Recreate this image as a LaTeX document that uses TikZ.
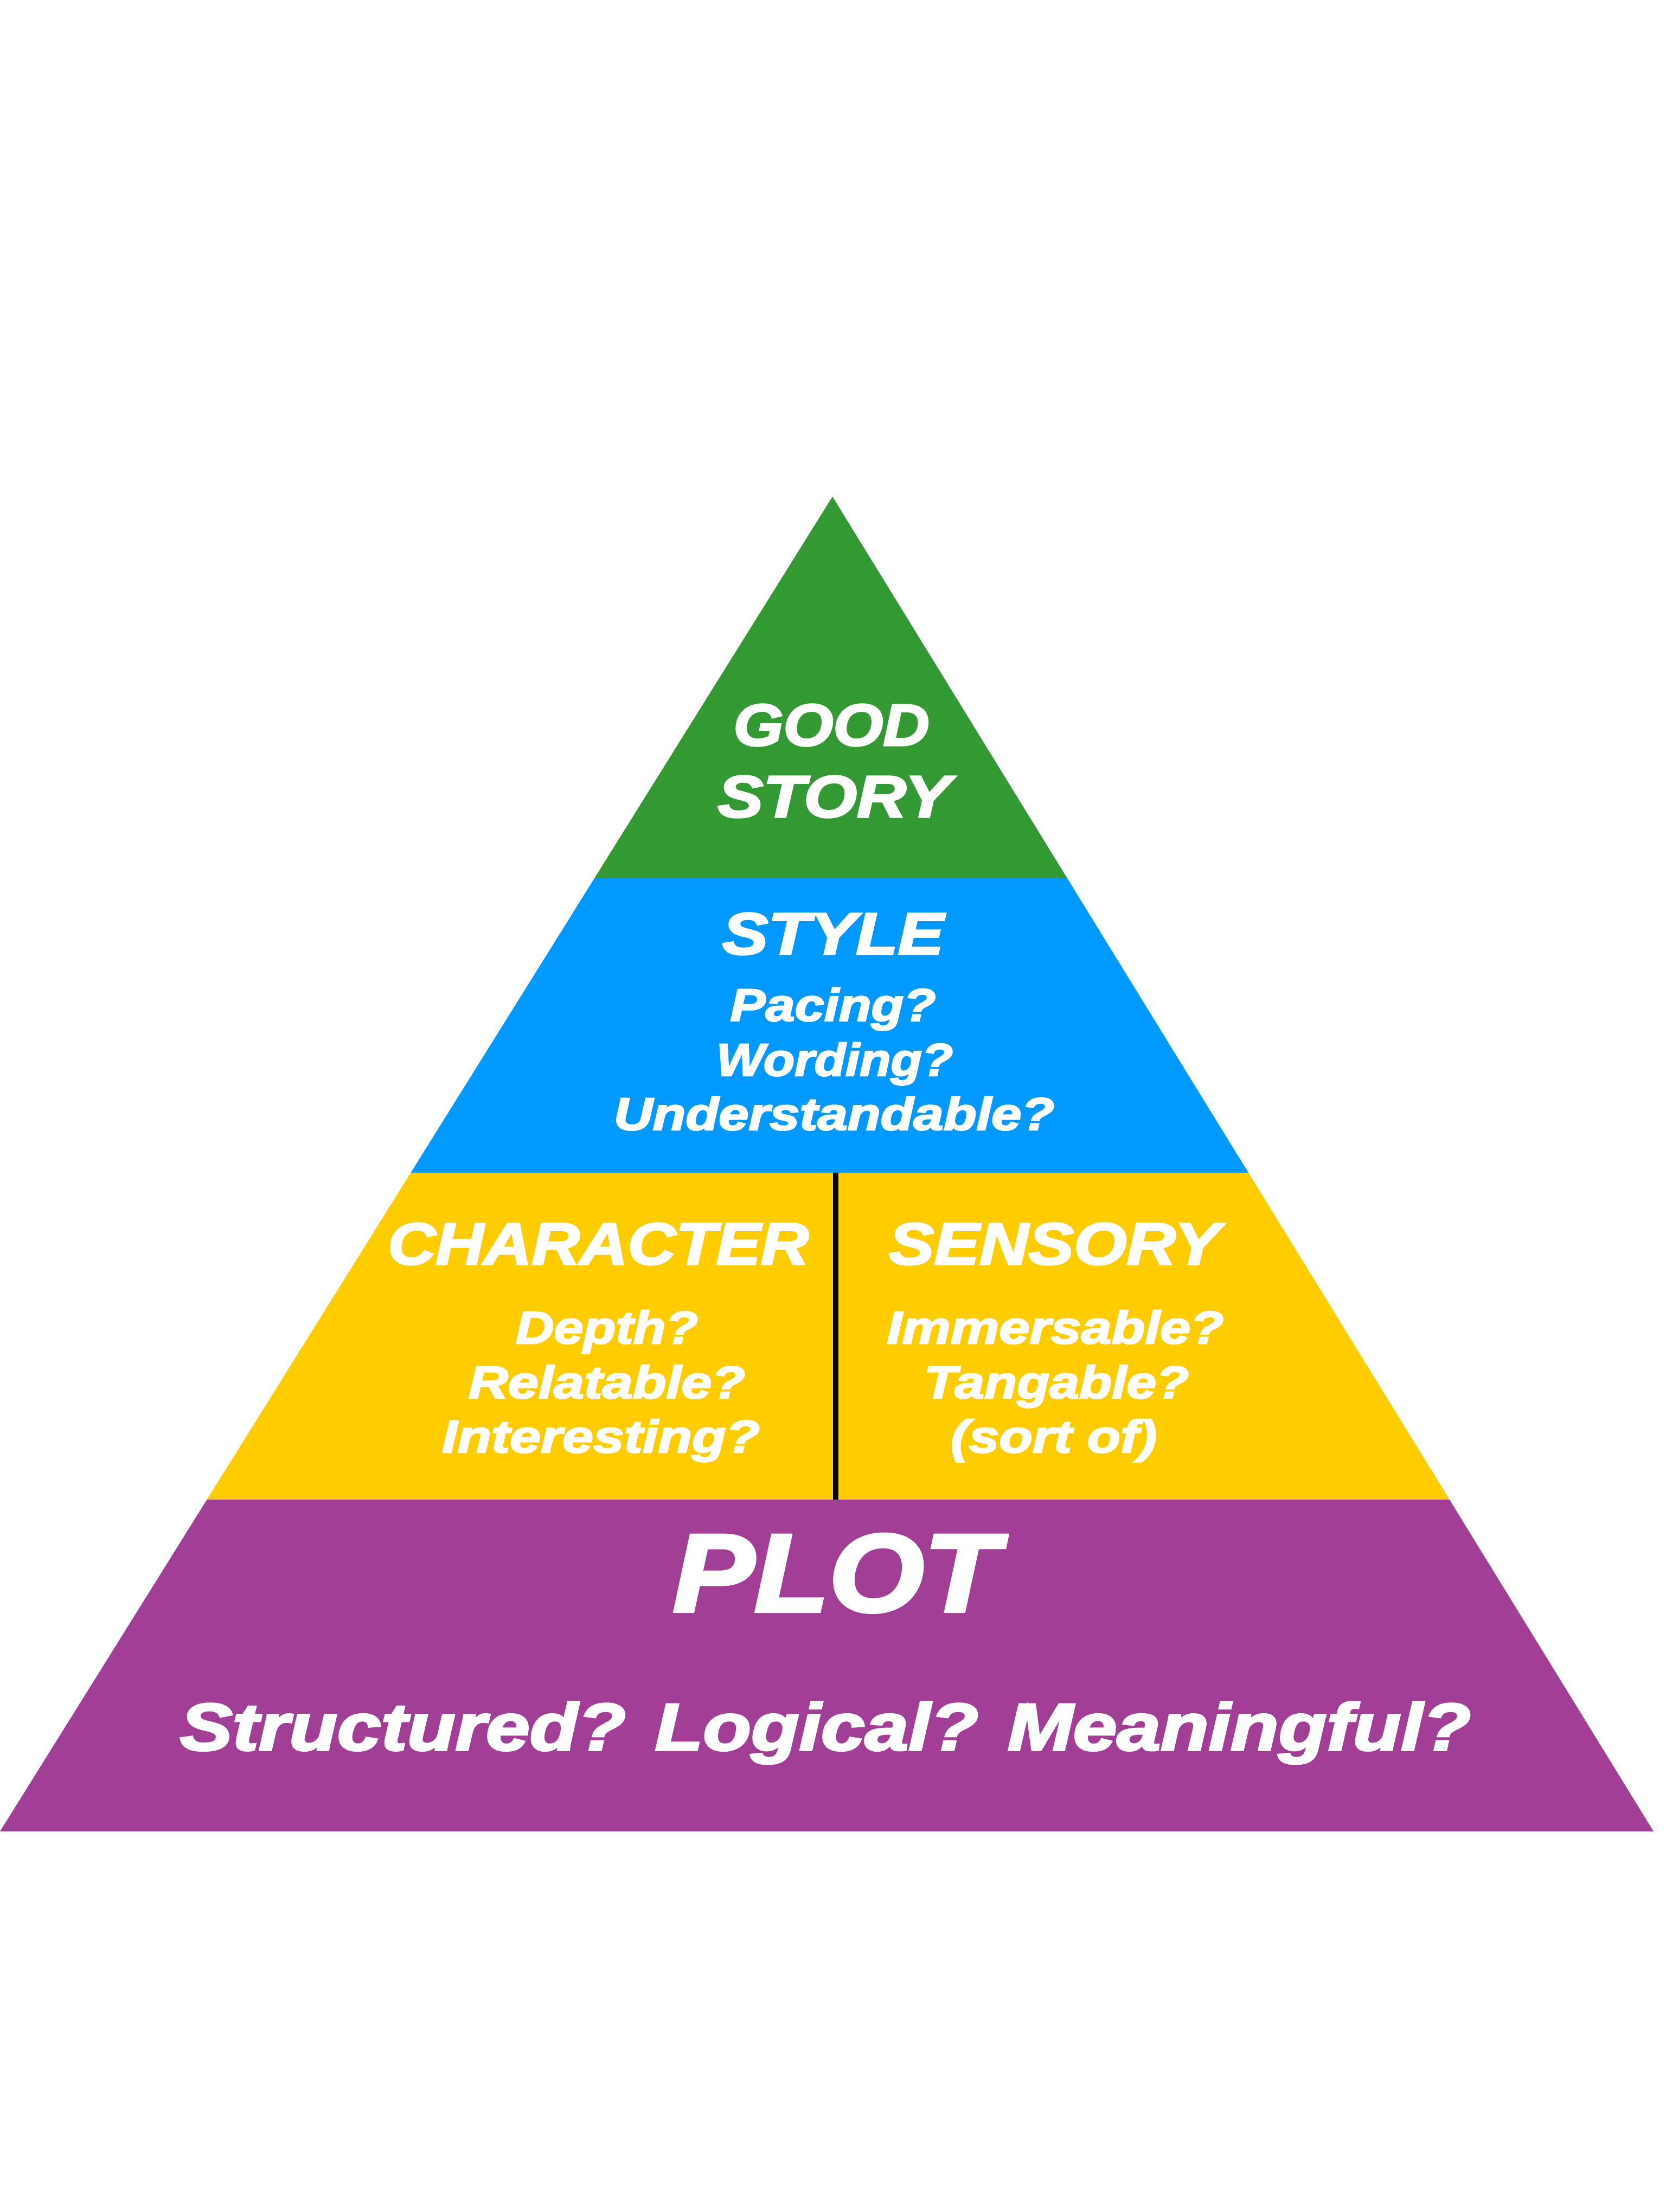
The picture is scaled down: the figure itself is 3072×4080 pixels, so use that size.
\documentclass[tikz,border=0pt]{standalone}
\usepackage{fontspec}
\usepackage{graphicx}
\newfontfamily\blk{Liberation Sans}[UprightFont={* Bold Italic}, FakeBold=3]
\newlength\fitlen
\newcommand\fsz[1]{\fontsize{#1}{#1}\selectfont}
\newcommand\fitw[2]{\settowidth\fitlen{#2}\pgfmathsetmacro\fitr{(#1)/(\fitlen)}\scalebox{\fitr}[1]{#2}}
\definecolor{pgreen}{RGB}{51,153,51}
\definecolor{pblue}{RGB}{0,153,255}
\definecolor{pyellow}{RGB}{255,204,0}
\definecolor{ppurple}{RGB}{163,62,150}
\tikzset{
  lbl/.style={text=white, inner sep=0pt, anchor=base},
  divider/.style={line width=2.85pt, draw=black}
}
\begin{document}
\begin{tikzpicture}[x=0.01cm, y=-0.01cm]
\fill[white] (0,0) rectangle (3072,4080);
\useasboundingbox (0,0) rectangle (3072,4080);
\begin{scope}
  \clip (1535,916) -- (3049,3378) -- (0,3378) -- cycle;
  \fill[pgreen] (0,900) rectangle (3072,1620);
  \fill[pblue] (0,1620) rectangle (3072,2163);
  \fill[pyellow] (0,2163) rectangle (3072,2766);
  \fill[ppurple] (0,2766) rectangle (3072,3400);
\end{scope}
\coordinate (divtop) at (1541,2163);
\coordinate (divbot) at (1541,2766);
\draw[divider] (divtop) -- (divbot);
% green
\node[lbl, font=\blk\fsz{31}] (good) at (1533,1375) {\fitw{3.61cm}{GOOD}};
\node[lbl, font=\blk\fsz{31}] (story) at (1538,1507) {\fitw{4.29cm}{STORY}};
% blue
\node[lbl, font=\blk\fsz{31}] (style) at (1536,1760) {\fitw{4.08cm}{STYLE}};
\node[lbl, font=\blk\fsz{24}] (pacing) at (1536,1883) {\fitw{3.79cm}{Pacing?}};
\node[lbl, font=\blk\fsz{24}] (wording) at (1539,1984) {\fitw{4.36cm}{Wording?}};
\node[lbl, font=\blk\fsz{24}] (underst) at (1538,2084) {\fitw{8.12cm}{Understandable?}};
% yellow left
\node[lbl, font=\blk\fsz{31}] (character) at (1103,2332) {\fitw{7.76cm}{CHARACTER}};
\node[lbl, font=\blk\fsz{24}] (depth) at (1119,2478) {\fitw{3.36cm}{Depth?}};
\node[lbl, font=\blk\fsz{24}] (relatable) at (1119,2579) {\fitw{5.10cm}{Relatable?}};
\node[lbl, font=\blk\fsz{24}] (interesting) at (1108,2679) {\fitw{5.86cm}{Interesting?}};
% yellow right
\node[lbl, font=\blk\fsz{31}] (sensory) at (1944,2332) {\fitw{6.10cm}{SENSORY}};
\node[lbl, font=\blk\fsz{24}] (immersable) at (1946,2478) {\fitw{6.21cm}{Immersable?}};
\node[lbl, font=\blk\fsz{24}] (tangable) at (1948,2579) {\fitw{4.88cm}{Tangable?}};
\node[lbl, font=\blk\fsz{24}] (sortof) at (1943,2679) {\fitw{3.80cm}{(sort of)}};
% purple
\node[lbl, font=\blk\fsz{58}] (plot) at (1541,2972) {\fitw{6.00cm}{PLOT}};
\node[lbl, font=\blk\fsz{35}] (questions) at (1522,3228) {\fitw{23.79cm}{Structured? Logical? Meaningful?}};
\end{tikzpicture}
\end{document}
